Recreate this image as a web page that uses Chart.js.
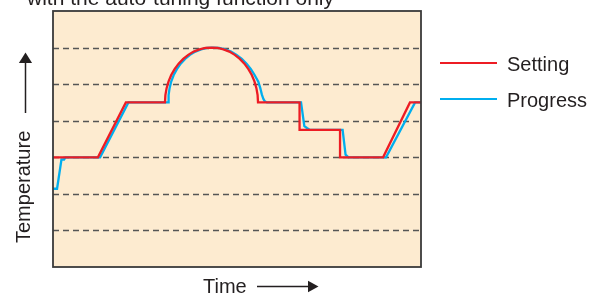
<!DOCTYPE html>
<html>
<head>
<meta charset="utf-8">
<script src="https://cdn.jsdelivr.net/npm/chart.js@4"></script>
<style>
    html, body { margin: 0; padding: 0; background: #fff; }
    #wrap { position: relative; width: 600px; height: 293px; }
</style>
</head>
<body>
<div id="wrap"><canvas id="tuning"></canvas></div>
<script>
    // time runs 0..100, temperature levels 0..7 (dashed lines at 1..6)
    var titleText = 'with the auto-tuning function only';
    var xLabel = 'Time';
    var yLabel = 'Temperature';
    var seriesNames = ['Setting', 'Progress'];
    var seriesColors = ['#ed1c24', '#00aeef'];
    var gridLevels = [1, 2, 3, 4, 5, 6];

    var settingTime = [0, 12.2, 19.8,
        30.43, 30.54, 30.87, 31.39, 32.12, 33.04, 34.13, 35.38, 36.75, 38.23, 39.81, 41.41, 43.07,
        44.73, 46.33, 47.91, 49.39, 50.76, 52.01, 53.1, 54.02, 54.76, 55.27, 55.6, 55.71,
        67.0, 67.0, 78.0, 78.0, 89.7, 97.0, 100];
    var settingTemp = [3, 3, 4.5,
        4.5, 4.7, 4.89, 5.07, 5.25, 5.41, 5.56, 5.69, 5.8, 5.89, 5.95, 5.99, 6.0,
        5.99, 5.95, 5.89, 5.8, 5.69, 5.56, 5.41, 5.25, 5.07, 4.89, 4.7, 4.5,
        4.5, 3.75, 3.75, 3.0, 3.0, 4.5, 4.5];

    var progressTime = [0, 1.1, 2.3, 3.0, 3.4, 12.8, 20.5,
        31.39, 31.41, 31.68, 32.12, 32.8, 33.67, 34.7, 35.9, 37.23, 38.7, 40.24, 41.82, 43.48,
        45.14, 46.77, 48.37, 49.89, 51.3, 52.61, 53.78, 54.78, 55.79, 56.33, 56.74, 57.15, 57.55, 58.15,
        67.4, 68.3, 69.0, 69.8, 78.7, 79.5, 80.3, 90.5, 98.4, 100];
    var progressTemp = [2.14, 2.14, 2.94, 2.94, 3.0, 3.0, 4.5,
        4.5, 4.7, 4.89, 5.07, 5.25, 5.41, 5.56, 5.69, 5.8, 5.89, 5.95, 5.99, 6.0,
        5.99, 5.95, 5.89, 5.8, 5.69, 5.56, 5.41, 5.25, 5.07, 4.89, 4.72, 4.6, 4.53, 4.5,
        4.5, 3.85, 3.8, 3.75, 3.75, 3.07, 3.0, 3.0, 4.5, 4.5];

    var FONT = '20px "Liberation Sans", Arial, sans-serif';
    var TITLE_FONT = '21px "Liberation Sans", Arial, sans-serif';
    var INK = '#231f20';

    function toPoints(xs, ys) {
        return xs.map(function (x, i) {
            return {x: x, y: ys[i]};
        });
    }

    function arrowHead(ctx, tipX, tipY, dx, dy, len, half) {
        // dx,dy: unit direction of the arrow
        ctx.beginPath();
        ctx.moveTo(tipX, tipY);
        ctx.lineTo(tipX - dx * len - dy * half, tipY - dy * len + dx * half);
        ctx.lineTo(tipX - dx * len + dy * half, tipY - dy * len - dx * half);
        ctx.closePath();
        ctx.fill();
    }

    var framePlugin = {
        id: 'frame',
        beforeDatasetsDraw: function (chart) {
            var ctx = chart.ctx;
            var a = chart.chartArea;
            var y = chart.scales.y;
            ctx.save();
            ctx.fillStyle = '#fdebd0';
            ctx.fillRect(a.left, a.top, a.right - a.left, a.bottom - a.top);

            ctx.strokeStyle = '#555';
            ctx.lineWidth = 1.4;
            ctx.setLineDash([6, 4]);
            gridLevels.forEach(function (v) {
                var py = Math.round(y.getPixelForValue(v)) + 0.5;
                ctx.beginPath();
                ctx.moveTo(a.left, py);
                ctx.lineTo(a.right, py);
                ctx.stroke();
            });
            ctx.restore();
        },
        afterDatasetsDraw: function (chart) {
            var ctx = chart.ctx;
            var a = chart.chartArea;
            ctx.save();
            ctx.strokeStyle = '#3a3a3a';
            ctx.lineWidth = 1.8;
            ctx.strokeRect(a.left, a.top, a.right - a.left, a.bottom - a.top);
            ctx.restore();
        },
        afterDraw: function (chart) {
            var ctx = chart.ctx;
            ctx.save();
            ctx.fillStyle = INK;
            ctx.strokeStyle = INK;
            ctx.textBaseline = 'alphabetic';

            // title, clipped by the top edge
            ctx.font = TITLE_FONT;
            ctx.fillText(titleText, 27, 4.5);
            ctx.font = FONT;

            // legend
            var rows = [70.5, 106.5];
            chart.data.datasets.forEach(function (ds, i) {
                var mid = rows[i] - 7.5;
                ctx.strokeStyle = ds.borderColor;
                ctx.lineWidth = 2;
                ctx.beginPath();
                ctx.moveTo(440, mid);
                ctx.lineTo(497, mid);
                ctx.stroke();
                ctx.fillText(ds.label, 507, rows[i]);
            });

            // x axis label + arrow
            ctx.fillText(xLabel, 203, 293);
            ctx.strokeStyle = INK;
            ctx.lineWidth = 1.5;
            ctx.beginPath();
            ctx.moveTo(257, 286.5);
            ctx.lineTo(310, 286.5);
            ctx.stroke();
            arrowHead(ctx, 318.5, 286.5, 1, 0, 10.5, 5.7);

            // y axis label + arrow
            ctx.save();
            ctx.translate(30, 243);
            ctx.rotate(-Math.PI / 2);
            ctx.fillText(yLabel, 0, 0);
            ctx.restore();
            ctx.beginPath();
            ctx.moveTo(25.5, 113);
            ctx.lineTo(25.5, 61);
            ctx.stroke();
            arrowHead(ctx, 25.5, 52.5, 0, -1, 10.5, 6.6);
            ctx.restore();
        }
    };

    new Chart(document.getElementById('tuning'), {
        type: 'line',
        data: {
            datasets: [
                {
                    label: seriesNames[0],
                    data: toPoints(settingTime, settingTemp),
                    borderColor: seriesColors[0],
                    borderWidth: 2.3,
                    pointRadius: 0,
                    tension: 0,
                    fill: false
                },
                {
                    label: seriesNames[1],
                    data: toPoints(progressTime, progressTemp),
                    borderColor: seriesColors[1],
                    borderWidth: 2.3,
                    pointRadius: 0,
                    tension: 0,
                    fill: false
                }
            ]
        },
        options: {
            responsive: true,
            maintainAspectRatio: false,
            animation: false,
            layout: {padding: {left: 53, top: 11, right: 179, bottom: 26}},
            scales: {
                x: {type: 'linear', min: 0, max: 100, display: false},
                y: {type: 'linear', min: 0, max: 7, display: false}
            },
            plugins: {
                legend: {display: false},
                title: {display: false},
                tooltip: {enabled: false}
            }
        },
        plugins: [framePlugin]
    });
</script>
</body>
</html>
